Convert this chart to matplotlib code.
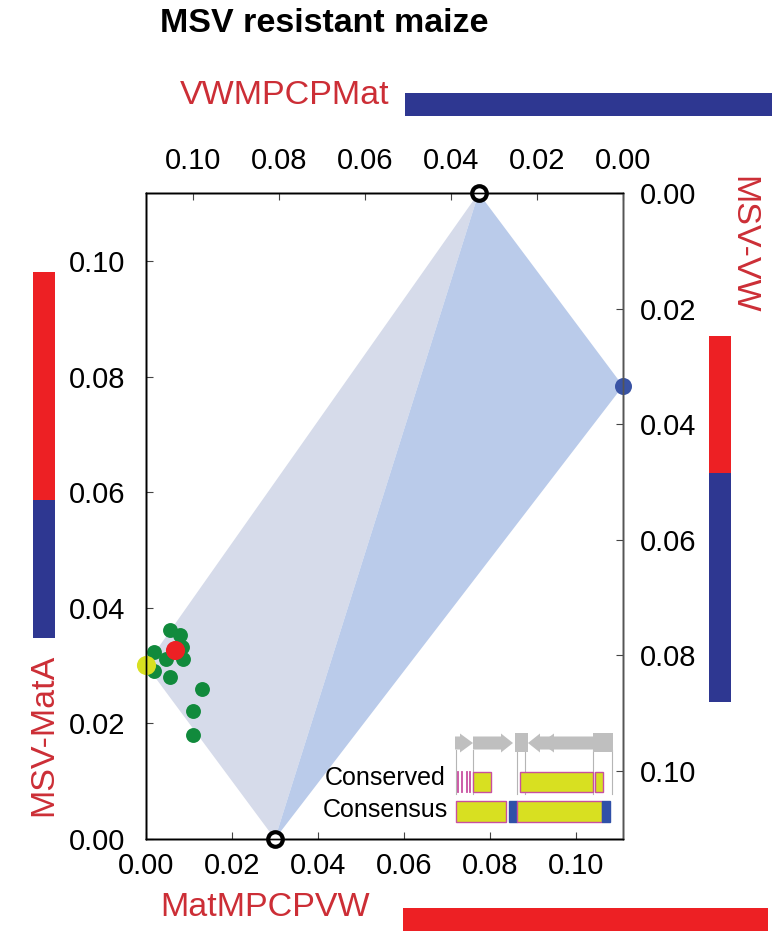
import matplotlib
matplotlib.use('Agg')
import matplotlib.pyplot as plt
from matplotlib.patches import Polygon, Rectangle, FancyArrow
from matplotlib.ticker import FormatStrFormatter

plt.rcParams['font.family'] = ['Liberation Sans', 'DejaVu Sans']

W, H = 772, 931

# axis ranges (bottom/left); top and right axes run the other way
x_max = 0.111
y_max = 0.1118
ticks = [0.00, 0.02, 0.04, 0.06, 0.08, 0.10]

# parental / recombinant positions (bottom x, left y)
parent_bottom = (0.030, 0.0)
parent_top = (0.0774, 0.1118)
point_blue = (0.111, 0.0784)
point_yellow = (0.0, 0.0301)
point_red = (0.0067, 0.0327)

green_x = [0.0057, 0.0079, 0.0019, 0.0047, 0.0087, 0.0083, 0.0019, 0.0057, 0.0130, 0.0110, 0.0110]
green_y = [0.0362, 0.0353, 0.0323, 0.0311, 0.0311, 0.0333, 0.0291, 0.0281, 0.0260, 0.0222, 0.0180]

# composition bars (fraction red, fraction blue)
bar_top = [0.0, 1.0]
bar_bottom = [1.0, 0.0]
bar_left = [0.623, 0.377]
bar_right = [0.374, 0.626]

# genome inset
gene_start = [0, 18, 98, 138]
gene_end = [18, 58, 73, 86]
gene_head = [13, 12, 12, 13]
box_start = [60, 138]
box_end = [73, 158]
guide_x = [0.7, 18.3, 61.7, 70, 138.3, 156.7]
cons_ticks = [3.3, 6.7, 11.7, 15.0]
conserved_start = [18.3, 65.0, 140.0]
conserved_end = [36.0, 138.3, 148.3]
consensus_start = [0.7, 54.3, 62.3, 146.7]
consensus_end = [51.0, 61.7, 146.7, 155.0]
consensus_col = ['y', 'b', 'y', 'b']

RED = '#ed2024'
BLUE = '#2e3791'
LABEL_RED = '#cc2e36'
YEL = '#d8e021'
MAG = '#c84fa0'


def box(x0, y0, x1, y1):
    return [x0 / W, 1 - y1 / H, (x1 - x0) / W, (y1 - y0) / H]


fig = plt.figure(figsize=(W / 100, H / 100), dpi=100)

ax = fig.add_axes(box(146, 193, 623, 839))
ax.set_xlim(0, x_max)
ax.set_ylim(0, y_max)

ax.add_patch(Polygon([point_yellow, parent_top, parent_bottom], closed=True,
                     facecolor='#d6dbea', edgecolor='none', zorder=1))
ax.add_patch(Polygon([parent_bottom, parent_top, point_blue], closed=True,
                     facecolor='#bacbea', edgecolor='none', zorder=1))

ax.scatter(green_x, green_y, s=115, color='#118a3c', zorder=3, clip_on=False, linewidths=0)
ax.scatter(*point_red, s=190, color=RED, zorder=4, clip_on=False, linewidths=0)
ax.scatter(*point_yellow, s=190, color=YEL, zorder=4, clip_on=False, linewidths=0)
ax.scatter(*point_blue, s=150, color='#3953a4', zorder=4, clip_on=False, linewidths=0)
ax.scatter([parent_bottom[0], parent_top[0]], [parent_bottom[1], parent_top[1]],
           s=110, facecolor='white', edgecolor='black', linewidths=3, zorder=5, clip_on=False)

ax.set_xticks(ticks)
ax.set_yticks(ticks)
ax.xaxis.set_major_formatter(FormatStrFormatter('%.2f'))
ax.yaxis.set_major_formatter(FormatStrFormatter('%.2f'))
ax.tick_params(axis='x', direction='in', length=5, color='#444', labelsize=21, pad=9)
ax.tick_params(axis='y', direction='in', length=5, color='#444', labelsize=21, pad=15)

ax_top = ax.twiny()
ax_top.set_xlim(x_max, 0)
ax_top.set_xticks(ticks)
ax_top.xaxis.set_major_formatter(FormatStrFormatter('%.2f'))
ax_top.tick_params(axis='x', direction='in', length=5, color='#444', labelsize=21, pad=13)

ax_right = ax.twinx()
ax_right.set_ylim(y_max, 0)
ax_right.set_yticks(ticks)
ax_right.yaxis.set_major_formatter(FormatStrFormatter('%.2f'))
ax_right.tick_params(axis='y', direction='in', length=5, color='#444', labelsize=21, pad=12)

for a in (ax, ax_top, ax_right):
    for s in a.spines.values():
        s.set_linewidth(1)
    a.spines['right'].set_color('#555')
    a.set_zorder(0)
ax.patch.set_visible(False)

# composition bars
def comp_bar(rect, fracs, vertical):
    b = fig.add_axes(box(*rect))
    b.set_axis_off()
    if vertical:
        b.set_ylim(1, 0)
        b.set_xlim(0, 1)
        b.bar(0.5, fracs[0], width=1, bottom=0, color=RED)
        b.bar(0.5, fracs[1], width=1, bottom=fracs[0], color=BLUE)
    else:
        b.set_xlim(0, 1)
        b.set_ylim(0, 1)
        b.barh(0.5, fracs[0], height=1, left=0, color=RED)
        b.barh(0.5, fracs[1], height=1, left=fracs[0], color=BLUE)


comp_bar((405, 93, 772, 116), bar_top, False)
comp_bar((403, 908, 768, 931), bar_bottom, False)
comp_bar((33, 272, 55, 638), bar_left, True)
comp_bar((709, 336, 731, 702), bar_right, True)

fig.text(160 / W, 1 - 23 / H, 'MSV resistant maize', fontsize=24.5, fontweight='bold',
         ha='left', va='center')
fig.text(180 / W, 1 - 95 / H, 'VWMPCPMat', fontsize=24.5, color=LABEL_RED, ha='left', va='center')
fig.text(160 / W, 1 - 908 / H, 'MatMPCPVW', fontsize=24.5, color=LABEL_RED, ha='left', va='center')
fig.text(44 / W, 1 - 735 / H, 'MSV-MatA', fontsize=24.5, color=LABEL_RED, rotation=90,
         ha='center', va='center')
fig.text(743 / W, 1 - 245 / H, 'MSV-VW', fontsize=24.5, color=LABEL_RED, rotation=270,
         ha='center', va='center')

# genome map inset
ins = fig.add_axes(box(455, 733, 615, 824))
ins.set_xlim(0, 160)
ins.set_ylim(824, 733)
ins.set_axis_off()

for x in guide_x:
    ins.plot([x, x], [750, 794], color='#b5b5b5', lw=0.8, zorder=1)
for s, e, hl in zip(gene_start, gene_end, gene_head):
    ins.add_patch(FancyArrow(s, 743, e - s, 0, width=13, head_width=19, head_length=hl,
                             length_includes_head=True, color='#bfbfbf', lw=0, zorder=2))
for s, e in zip(box_start, box_end):
    ins.add_patch(Rectangle((s, 733.5), e - s, 19, color='#bfbfbf', lw=0, zorder=2))

for x in cons_ticks:
    ins.plot([x, x], [772, 792], color=MAG, lw=1.3, zorder=3)
for s, e in zip(conserved_start, conserved_end):
    ins.add_patch(Rectangle((s, 772), e - s, 20, facecolor=YEL, edgecolor=MAG, lw=1, zorder=3))
for s, e, c in zip(consensus_start, consensus_end, consensus_col):
    if c == 'y':
        ins.add_patch(Rectangle((s, 801), e - s, 21, facecolor=YEL, edgecolor=MAG, lw=1, zorder=3))
    else:
        ins.add_patch(Rectangle((s, 801), e - s, 21, facecolor='#3050a8', edgecolor='#3050a8',
                                lw=1, zorder=3))

ins.text(-10, 778, 'Conserved', fontsize=18, ha='right', va='center', clip_on=False)
ins.text(-7, 810, 'Consensus', fontsize=18, ha='right', va='center', clip_on=False)

fig.savefig('out.png', dpi=100)
